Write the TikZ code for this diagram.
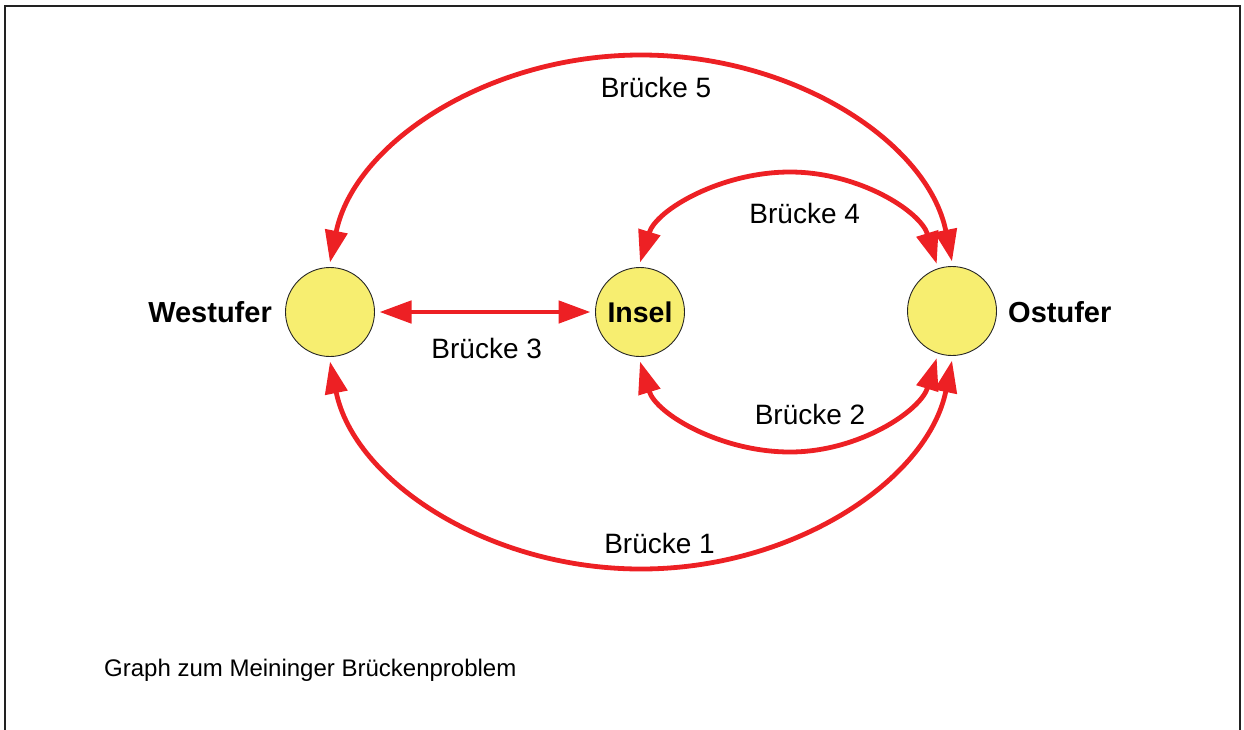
\documentclass[tikz,border=0pt]{standalone}
\usepackage{fontspec}
\setmainfont{Liberation Sans}
\usetikzlibrary{arrows.meta}
\definecolor{bred}{RGB}{237,32,36}
\definecolor{byellow}{RGB}{247,238,112}
\definecolor{framecol}{RGB}{34,34,34}
\tikzset{
  place/.style={circle, draw=black!85, line width=0.9pt, fill=byellow,
    minimum size=89pt, inner sep=0pt, outer sep=5pt,
    font=\fontsize{28.5}{32}\selectfont\bfseries},
  bridge/.style={draw=bred, line width=4.8pt, <->,
    >={Triangle[length=32pt,width=22pt]}},
  lab/.style={inner sep=0pt, font=\fontsize{28}{32}\selectfont},
  blab/.style={inner sep=0pt, font=\fontsize{29}{32}\selectfont\bfseries},
  captext/.style={inner sep=0pt, font=\fontsize{24}{28}\selectfont},
  framel/.style={draw=framecol, line width=2pt}
}
\begin{document}
\begin{tikzpicture}[x=1pt,y=-1pt]
\useasboundingbox (0,0) rectangle (1244,729);
\draw[framel] (5,735) -- (5,6) -- (1240,6) -- (1240,735);

\node[place] (W) at (330,312) {};
\node[place] (I) at (640,312) {Insel};
\node[place] (O) at (952,311) {};

\node[blab, anchor=base east] (Wl) at (272,322.7) {Westufer};
\node[blab, anchor=base west] (Ol) at (1008,322.7) {Ostufer};

\coordinate (t5) at (641,55);
\coordinate (b1) at (641,569);
\coordinate (t4) at (790,172);
\coordinate (b2) at (790,452);

% Bruecke 5
\draw[bridge] (W.north) .. controls +(24,-119) and +(-153.5,0) .. (t5)
   .. controls +(153.5,0) and +(-24,-119) .. (O.north);
% Bruecke 1
\draw[bridge] (W.south) .. controls +(24,119) and +(-153.5,0) .. (b1)
   .. controls +(153.5,0) and +(-24,119) .. (O.south);
% Bruecke 4
\draw[bridge] (I.north) .. controls +(16.3,-52.9) and +(-68.7,0) .. (t4)
   .. controls +(68.7,0) and +(-16.3,-52.9) .. (O.108);
% Bruecke 2
\draw[bridge] (I.south) .. controls +(16.3,52.9) and +(-68.7,0) .. (b2)
   .. controls +(68.7,0) and +(-16.3,52.9) .. (O.-108);
% Bruecke 3
\draw[bridge] (W.east) -- (I.west);

\node[lab, anchor=base] (l5) at (656,97.3) {Brücke 5};
\node[lab, anchor=base] (l4) at (804.7,223.3) {Brücke 4};
\node[lab, anchor=base] (l3) at (486.7,358.3) {Brücke 3};
\node[lab, anchor=base] (l2) at (810,424) {Brücke 2};
\node[lab, anchor=base] (l1) at (659.5,553.3) {Brücke 1};

\node[captext, anchor=base west] (capt) at (104,676.7) {Graph zum Meininger Brückenproblem};
\end{tikzpicture}
\end{document}
